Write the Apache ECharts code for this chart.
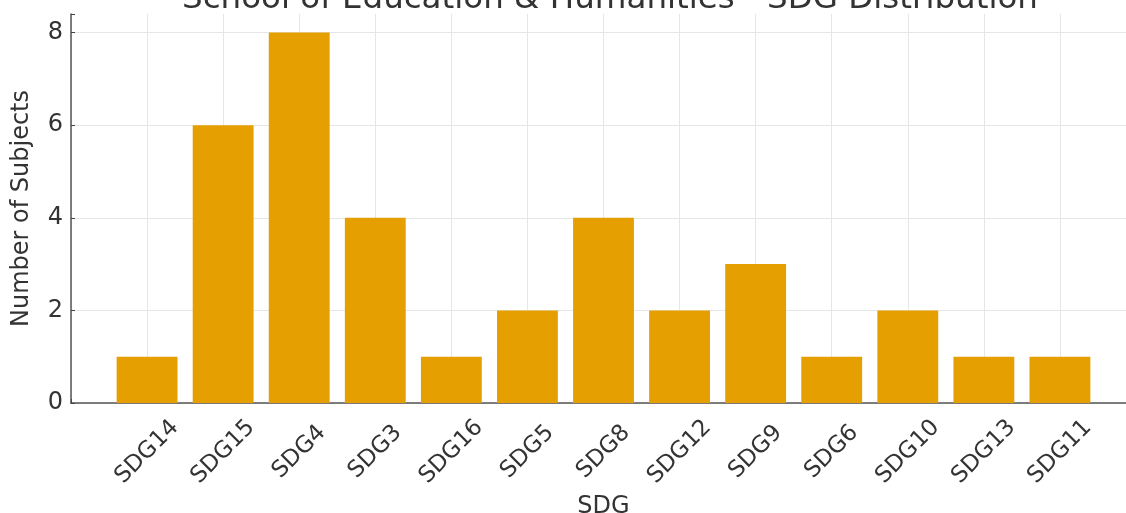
<!DOCTYPE html>
<html>
<head>
<meta charset="utf-8">
<script src="https://cdn.jsdelivr.net/npm/echarts@6/dist/echarts.min.js"></script>
<style>
html,body{margin:0;padding:0;background:#fff;}
#chart{width:1126px;height:513px;}
</style>
</head>
<body>
<div id="chart"></div>
<script>
const categories = ['SDG14','SDG15','SDG4','SDG3','SDG16','SDG5','SDG8','SDG12','SDG9','SDG6','SDG10','SDG13','SDG11'];
const subjectCounts = [1,6,8,4,1,2,4,2,3,1,2,1,1];
const yTicks = [0,2,4,6,8];

const FONT = 'DejaVu Sans';
const TXT = '#333333';
const chart = echarts.init(document.getElementById('chart'), null, {renderer:'canvas'});
const barData = subjectCounts.map((v,i)=>[i,v]);

chart.setOption({
  animation:false,
  backgroundColor:'#ffffff',
  title:{
    text:'School of Education & Humanities - SDG Distribution',
    left:605, textAlign:'center', top:-22,
    textStyle:{fontFamily:FONT,fontSize:32.5,fontWeight:'normal',color:TXT}
  },
  grid:{left:71,right:-10,top:14,bottom:110,containLabel:false,outerBoundsMode:'none'},
  xAxis:{
    type:'value', min:-1, max:13, interval:1,
    name:'SDG', nameLocation:'middle', nameGap:90,
    nameTextStyle:{fontFamily:FONT,fontSize:24,color:TXT},
    axisLine:{show:true,onZero:false,lineStyle:{color:'#555',width:1.5}},
    axisTick:{show:true,inside:true,length:4,lineStyle:{color:'#444'}},
    axisLabel:{
      fontFamily:FONT,fontSize:23,color:TXT,rotate:45,
      align:'center',verticalAlign:'middle',margin:49,
      showMinLabel:true,showMaxLabel:true,hideOverlap:false,
      formatter:(v)=> (categories[v]!==undefined ? categories[v] : '')
    },
    splitLine:{show:true,lineStyle:{color:'#e6e6e6',width:1}}
  },
  yAxis:{
    type:'value', min:0, max:8.4, interval:2,
    name:'Number of Subjects', nameLocation:'middle', nameGap:37,
    nameTextStyle:{fontFamily:FONT,fontSize:24,color:TXT},
    axisLine:{show:true,onZero:false,lineStyle:{color:'#555',width:1.5}},
    axisTick:{show:true,inside:true,length:4,lineStyle:{color:'#444'}},
    axisLabel:{fontFamily:FONT,fontSize:24,color:TXT,margin:8,
      formatter:(v)=> (yTicks.indexOf(v)>=0 ? String(v) : '')},
    splitLine:{show:true,lineStyle:{color:['#e6e6e6','#e6e6e6','#e6e6e6','#e6e6e6','#e6e6e6','rgba(0,0,0,0)'],width:1}}
  },
  series:[{
    type:'bar',
    data:barData,
    barWidth:'80%',
    itemStyle:{color:'#E69F00'}
  }]
});
</script>
</body>
</html>
